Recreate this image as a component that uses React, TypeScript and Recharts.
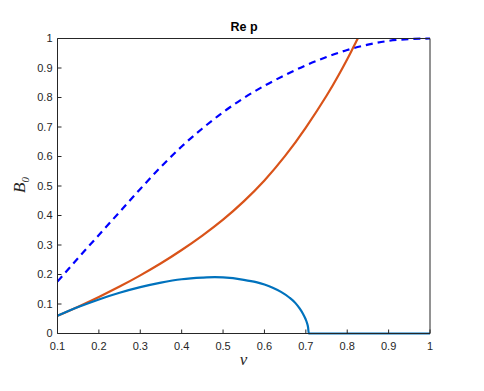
import { LineChart, Line, XAxis, YAxis } from "recharts";

const nuTicks = [0.1, 0.2, 0.3, 0.4, 0.5, 0.6, 0.7, 0.8, 0.9, 1];
const bTicks = [0, 0.1, 0.2, 0.3, 0.4, 0.5, 0.6, 0.7, 0.8, 0.9, 1];

// solid blue branch
const nuBlue = [0.1, 0.15, 0.2, 0.25, 0.3, 0.35, 0.4, 0.45, 0.48, 0.5, 0.55, 0.58, 0.6, 0.62, 0.64, 0.66, 0.675, 0.685, 0.693, 0.699, 0.703, 0.7055, 0.7071, 0.75, 0.8, 0.9, 1];
const bBlue = [0.06, 0.0895, 0.1155, 0.138, 0.157, 0.1725, 0.184, 0.1895, 0.191, 0.19, 0.182, 0.174, 0.166, 0.155, 0.141, 0.122, 0.103, 0.085, 0.067, 0.05, 0.035, 0.02, 0, 0, 0, 0, 0];

// orange branch
const nuOrange = [0.1, 0.15, 0.2, 0.25, 0.3, 0.35, 0.4, 0.45, 0.5, 0.55, 0.6, 0.65, 0.7, 0.75, 0.78, 0.8, 0.81, 0.82, 0.8255];
const bOrange = [0.06, 0.091, 0.124, 0.159, 0.197, 0.238, 0.283, 0.332, 0.386, 0.448, 0.519, 0.602, 0.698, 0.806, 0.878, 0.93, 0.957, 0.985, 1];

// dashed bound
const nuDash = [0.1, 0.15, 0.2, 0.25, 0.3, 0.35, 0.4, 0.45, 0.5, 0.55, 0.6, 0.65, 0.7, 0.75, 0.8, 0.85, 0.9, 0.95, 1];
const bDash = [0.176, 0.256, 0.334, 0.412, 0.49, 0.565, 0.634, 0.695, 0.75, 0.798, 0.84, 0.876, 0.909, 0.937, 0.961, 0.979, 0.992, 0.998, 1];

const rows = (nu: number[], b: number[]) => nu.map((x, i) => ({ nu: x, b: b[i] }));

const axisColor = "#262626";
const font = "'Liberation Sans', Arial, sans-serif";
const tickStyle = { fontSize: 11, fill: axisColor, fontFamily: font };
const blank = () => "";

export default function App() {
  return (
    <div style={{ position: "absolute", left: 0, top: 0, width: 484, height: 391, background: "#fff" }}>
      <LineChart
        width={484}
        height={391}
        margin={{ top: 28.5, right: 44, bottom: 27.5, left: 0 }}
      >
        <XAxis
          dataKey="nu"
          type="number"
          domain={[0.1, 1]}
          ticks={nuTicks}
          height={30}
          tickSize={-4}
          tickMargin={13}
          stroke={axisColor}
          tick={tickStyle}
          allowDuplicatedCategory={false}
        />
        <XAxis
          xAxisId="top"
          orientation="top"
          dataKey="nu"
          type="number"
          domain={[0.1, 1]}
          ticks={nuTicks}
          height={10}
          tickSize={-4}
          tickFormatter={blank}
          stroke={axisColor}
        />
        <YAxis
          type="number"
          domain={[0, 1]}
          ticks={bTicks}
          width={57.5}
          tickSize={-4}
          tickMargin={9}
          stroke={axisColor}
          tick={tickStyle}
        />
        <YAxis
          yAxisId="right"
          orientation="right"
          type="number"
          domain={[0, 1]}
          ticks={bTicks}
          width={10}
          tickSize={-4}
          tickFormatter={blank}
          stroke={axisColor}
        />
        <Line
          data={rows(nuDash, bDash)}
          dataKey="b"
          type="natural"
          stroke="#0000ff"
          strokeWidth={2.2}
          strokeDasharray="7 5"
          dot={false}
          isAnimationActive={false}
        />
        <Line
          data={rows(nuOrange, bOrange)}
          dataKey="b"
          type="natural"
          stroke="#d95319"
          strokeWidth={2.2}
          dot={false}
          isAnimationActive={false}
        />
        <Line
          data={rows(nuBlue, bBlue)}
          dataKey="b"
          type="monotone"
          stroke="#0072bd"
          strokeWidth={2.2}
          dot={false}
          isAnimationActive={false}
        />
      </LineChart>
      <div
        style={{
          position: "absolute",
          left: 194,
          width: 100,
          top: 20,
          textAlign: "center",
          fontFamily: font,
          fontWeight: "bold",
          fontSize: 12.5,
          color: "#000",
        }}
      >
        Re p
      </div>
      <div
        style={{
          position: "absolute",
          left: 193.5,
          width: 100,
          top: 350,
          textAlign: "center",
          fontFamily: "'Liberation Serif', serif",
          fontStyle: "italic",
          fontSize: 17,
          color: axisColor,
        }}
      >
        ν
      </div>
      <div
        style={{
          position: "absolute",
          left: 21,
          top: 185,
          transform: "translate(-50%, -50%) rotate(-90deg)",
          fontFamily: "'Liberation Serif', serif",
          fontStyle: "italic",
          fontSize: 17,
          color: axisColor,
          whiteSpace: "nowrap",
          lineHeight: 1,
        }}
      >
        B<sub style={{ fontSize: 11, fontStyle: "italic" }}>0</sub>
      </div>
    </div>
  );
}
